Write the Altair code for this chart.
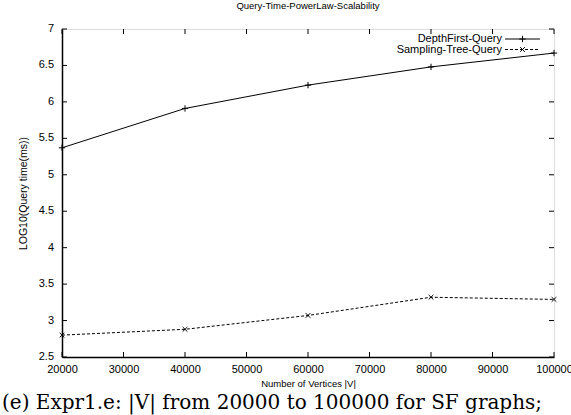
import altair as alt
import pandas as pd

vertices = [20000, 40000, 60000, 80000, 100000]
depth_first = [5.37, 5.91, 6.23, 6.48, 6.67]
sampling_tree = [2.80, 2.88, 3.07, 3.32, 3.29]
x_ticks = [20000, 30000, 40000, 50000, 60000, 70000, 80000, 90000, 100000]
y_ticks = [2.5, 3.0, 3.5, 4.0, 4.5, 5.0, 5.5, 6.0, 6.5, 7.0]
y_tick_labels = ["2.5", "3", "3.5", "4", "4.5", "5", "5.5", "6", "6.5", "7"]
series_names = ["DepthFirst-Query", "Sampling-Tree-Query"]
title_text = "Query-Time-PowerLaw-Scalability"
caption_text = "(e) Expr1.e: |V| from 20000 to 100000 for SF graphs;"

W, H = 492, 328
SANS = "Liberation Sans, Arial, Helvetica, sans-serif"

df1 = pd.DataFrame({"x": vertices, "y": depth_first})
df2 = pd.DataFrame({"x": vertices, "y": sampling_tree})

xs = alt.Scale(domain=[20000, 100000], nice=False, zero=False)
ys = alt.Scale(domain=[2.5, 7], nice=False, zero=False)

xenc = alt.X("x:Q", scale=xs,
             axis=alt.Axis(values=x_ticks, format="d", title="Number of Vertices |V|",
                           labelFont=SANS, labelFontSize=11, labelColor="black",
                           titleFont=SANS, titleFontSize=9.5, titleFontWeight="normal",
                           titleColor="black", titlePadding=4, labelPadding=6,
                           domainColor="black", domainWidth=1.5, ticks=False,
                           grid=False, labelFlush=False, labelOverlap=False))
yenc = alt.Y("y:Q", scale=ys,
             axis=alt.Axis(values=y_ticks, labels=False, title="LOG10(Query time(ms))",
                           titleFont=SANS, titleFontSize=10.5, titleFontWeight="normal",
                           titleColor="black", titlePadding=34,
                           domainColor="black", domainWidth=1.5, ticks=False,
                           grid=False))

plus_path = "M-1,0L1,0M0,-1L0,1"
x_path = "M-1,-1L1,1M-1,1L1,-1"

line1 = alt.Chart(df1).mark_line(color="black", strokeWidth=1).encode(x=xenc, y=yenc)
pts1 = alt.Chart(df1).mark_point(shape=plus_path, size=40, color="black", strokeWidth=1,
                                 filled=False, opacity=1).encode(x="x:Q", y="y:Q")
line2 = alt.Chart(df2).mark_line(color="black", strokeWidth=1, strokeDash=[3, 2]).encode(x="x:Q", y="y:Q")
pts2 = alt.Chart(df2).mark_point(shape=x_path, size=22, color="black", strokeWidth=1,
                                 filled=False, opacity=1).encode(x="x:Q", y="y:Q")

# inward tick marks on all four sides
xt = pd.DataFrame({"x": x_ticks})
yt = pd.DataFrame({"y": y_ticks, "lab": y_tick_labels})
tick_b = alt.Chart(xt).mark_rule(color="black", strokeWidth=1).encode(
    x="x:Q", y=alt.value(H), y2=alt.value(H - 5))
tick_t = alt.Chart(xt).mark_rule(color="black", strokeWidth=1).encode(
    x="x:Q", y=alt.value(0), y2=alt.value(5))
tick_l = alt.Chart(yt).mark_rule(color="black", strokeWidth=1).encode(
    y="y:Q", x=alt.value(0), x2=alt.value(5))
tick_r = alt.Chart(yt).mark_rule(color="black", strokeWidth=1).encode(
    y="y:Q", x=alt.value(W), x2=alt.value(W - 5))
ylabels = alt.Chart(yt).mark_text(align="right", baseline="middle", font=SANS,
                                  fontSize=11, color="black").encode(
    y="y:Q", text="lab:N", x=alt.value(-8))

# legend
leg = pd.DataFrame({"name": series_names})
lx_text = 440
ly0 = 10
leg_t1 = alt.Chart(leg.iloc[[0]]).mark_text(align="right", baseline="middle", font=SANS,
                                            fontSize=11, color="black").encode(
    text="name:N", x=alt.value(lx_text), y=alt.value(ly0))
leg_t2 = alt.Chart(leg.iloc[[1]]).mark_text(align="right", baseline="middle", font=SANS,
                                            fontSize=11, color="black").encode(
    text="name:N", x=alt.value(lx_text), y=alt.value(ly0 + 10.5))
leg_l1 = alt.Chart(leg.iloc[[0]]).mark_rule(color="black", strokeWidth=1).encode(
    x=alt.value(lx_text + 3), x2=alt.value(lx_text + 38), y=alt.value(ly0))
leg_l2 = alt.Chart(leg.iloc[[1]]).mark_rule(color="black", strokeWidth=1, strokeDash=[3, 2]).encode(
    x=alt.value(lx_text + 3), x2=alt.value(lx_text + 38), y=alt.value(ly0 + 10.5))
leg_p1 = alt.Chart(leg.iloc[[0]]).mark_point(shape=plus_path, size=40, color="black",
                                             filled=False, opacity=1, strokeWidth=1).encode(
    x=alt.value(lx_text + 20.5), y=alt.value(ly0))
leg_p2 = alt.Chart(leg.iloc[[1]]).mark_point(shape=x_path, size=22, color="black",
                                             filled=False, opacity=1, strokeWidth=1).encode(
    x=alt.value(lx_text + 20.5), y=alt.value(ly0 + 10.5))

cap = pd.DataFrame({"t": [caption_text]})
caption = alt.Chart(cap).mark_text(align="left", baseline="middle", font="DejaVu Serif",
                                   fontSize=20, color="black").encode(
    text="t:N", x=alt.value(-60), y=alt.value(H + 46))

chart = alt.layer(
    line1, pts1, line2, pts2, tick_b, tick_t, tick_l, tick_r, ylabels,
    leg_t1, leg_t2, leg_l1, leg_l2, leg_p1, leg_p2, caption
).properties(
    width=W, height=H,
    title=alt.TitleParams(title_text, font=SANS, fontSize=9.5, fontWeight="normal",
                          color="black", offset=13, anchor="middle"),
    autosize=alt.AutoSizeParams(type="none"),
    padding={"left": 62, "top": 29, "right": 17, "bottom": 58},
).configure_view(stroke="black", strokeWidth=1.5).configure_axis(
    labelOverlap=False
).configure(background="white")

chart.save("out.html", embed_options={"renderer": "svg", "actions": False})
